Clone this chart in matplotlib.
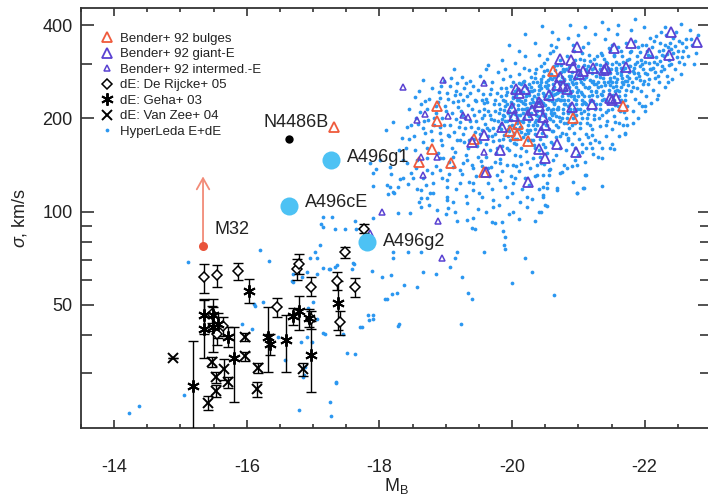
import numpy as np
import matplotlib
matplotlib.use('Agg')
import matplotlib.pyplot as plt
from matplotlib.ticker import FixedLocator, NullFormatter, FixedFormatter

plt.rcParams['font.family'] = ['Liberation Sans', 'DejaVu Sans']
plt.rcParams['axes.unicode_minus'] = False
plt.rcParams['mathtext.fontset'] = 'custom'
plt.rcParams['mathtext.rm'] = 'Liberation Sans'
plt.rcParams['mathtext.it'] = 'Liberation Sans:italic'

# ---- Bender+92 samples (M_B, sigma) ----
bulge_mag = [-17.32, -18.87, -18.87, -18.80, -18.59, -19.08, -20.62, -21.68, -20.92,
             -20.09, -19.97, -20.08, -20.24, -19.43, -19.58]
bulge_sig = [187.8, 219.5, 196.3, 159.5, 144.8, 143.7, 284.4, 219.5, 200.7,
             192.0, 182.3, 176.9, 169.2, 171.7, 134.5]

giant_mag = [-22.39, -22.79, -21.80, -21.53, -20.98, -22.07, -22.36, -20.73, -20.89, -20.92,
             -21.72, -21.41, -21.39, -21.22, -21.07, -21.01, -20.73, -20.68, -20.77, -20.83,
             -20.20, -20.06, -20.11, -20.55, -20.40, -20.00, -20.30, -20.41, -20.24, -20.03,
             -20.47, -20.49, -20.43, -20.91, -21.21, -21.47, -21.56, -21.51, -19.85, -19.82,
             -20.40, -20.50, -20.68, -20.97, -20.24, -19.60, -19.57, -19.40]
giant_sig = [379.8, 352.6, 350.0, 337.3, 339.8, 325.0, 320.2, 310.9, 308.6, 293.0,
             293.0, 290.8, 286.5, 290.8, 284.4, 278.1, 272.1, 256.4, 254.5, 248.9,
             248.9, 248.9, 241.6, 238.1, 226.1, 216.2, 213.1, 219.5, 205.3, 203.8,
             202.3, 190.6, 180.9, 217.9, 222.8, 232.9, 232.9, 229.5, 187.8, 158.3,
             159.5, 149.2, 165.5, 156.0, 124.9, 134.5, 176.9, 168.0]

inter_mag = [-19.58, -19.26, -19.34, -19.57, -18.36, -18.96, -18.57, -18.68, -19.04, -18.62,
             -18.87, -18.66, -18.04, -18.89, -18.95, -17.86]
inter_sig = [260.2, 205.3, 202.3, 156.0, 252.6, 266.1, 197.8, 206.8, 203.8, 150.3,
             150.3, 131.5, 100.0, 93.6, 70.6, 85.6]

# ---- dE samples ----
drk_mag = [-15.36, -15.55, -15.86, -16.46, -16.75, -16.79, -16.97, -17.36, -17.48, -17.63,
           -17.41, -16.97, -15.64, -15.48, -15.55, -17.76]
drk_sig = [61.3, 62.3, 64.1, 49.1, 65.1, 68.0, 57.3, 59.9, 73.8, 56.9,
           43.9, 44.9, 42.6, 46.6, 40.1, 88.2]
drk_err = [6.5, 5.0, 4.0, 3.5, 5.0, 5.0, 4.0, 4.0, 3.0, 4.0,
           4.0, 3.0, 3.0, 3.0, 3.0, 3.0]

geha_mag = [-16.04, -15.36, -15.49, -15.36, -15.49, -15.57, -15.72, -15.19, -15.81, -16.32,
            -16.35, -16.59, -16.70, -16.79, -16.94, -16.97, -17.38]
geha_sig = [55.6, 46.2, 46.2, 41.7, 42.3, 43.2, 39.5, 27.3, 33.6, 39.3,
            37.3, 38.4, 45.9, 47.6, 45.5, 34.4, 50.6]
geha_lo = [5.0, 6.0, 5.0, 8.0, 7.0, 4.0, 3.0, 8.0, 9.3, 9.0,
           3.0, 8.1, 3.0, 6.2, 3.0, 8.3, 9.0]
geha_hi = [5.0, 6.0, 6.0, 10.0, 7.0, 4.0, 3.0, 11.0, 8.7, 10.0,
           3.0, 7.8, 3.0, 5.7, 3.0, 10.0, 9.0]

vz_mag = [-14.89, -15.48, -15.54, -15.54, -15.42, -15.66, -15.72, -15.98, -15.98, -16.17,
          -16.16, -16.85]
vz_sig = [33.6, 32.6, 29.2, 26.3, 24.1, 31.0, 28.1, 39.3, 34.1, 31.2,
          26.7, 31.0]
vz_err = [0.0, 1.2, 1.2, 1.2, 1.2, 2.5, 1.2, 1.2, 1.2, 1.2,
          1.5, 1.5]

# ---- labelled objects ----
a496_names = ['A496g1', 'A496cE', 'A496g2']
a496_mag = [-17.27, -16.64, -17.82]
a496_sig = [147.0, 104.6, 80.0]
a496_text_mag = [-17.51, -16.88, -18.06]
a496_text_sig = [144.8, 103.7, 77.4]

n4486b_mag, n4486b_sig = -16.64, 171.7
m32_mag, m32_sig, m32_upper = -15.34, 77.2, 130.0

# ---- HyperLeda E+dE (M_B, sigma) ----
hyperleda = [
    # faint tail
    (-14.23, 22.4), (-14.38, 23.6), (-15.06, 25.6), (-15.12, 68.8), (-16.20, 75.0), (-16.34, 69.4),
    (-16.11, 50.2), (-16.25, 50.9), (-15.93, 43.5), (-16.08, 41.7), (-16.47, 39.5), (-16.58, 33.2),
    (-16.78, 22.9), (-16.81, 37.8), (-16.85, 29.2), (-16.91, 39.3), (-16.88, 31.5), (-17.15, 40.4),
    (-17.26, 24.3), (-17.27, 21.9), (-17.35, 27.9), (-16.70, 63.1), (-16.68, 59.9), (-16.91, 63.6),
    (-16.96, 71.1), (-17.03, 73.8), (-17.06, 70.6), (-17.12, 91.5), (-17.15, 89.4), (-17.11, 78.0),
    (-17.15, 65.9), (-17.24, 65.4), (-17.33, 66.4), (-17.06, 62.7), (-16.93, 48.7), (-17.00, 50.9),
    (-17.06, 44.9),
    (-17.15, 96.3), (-17.29, 96.3), (-17.33, 88.2), (-17.48, 88.2), (-17.63, 93.6), (-17.65, 87.6),
    (-17.91, 95.6), (-18.13, 114.2), (-18.22, 115.1), (-18.28, 99.2), (-18.21, 73.8), (-17.89, 64.1),
    (-18.04, 61.3), (-18.19, 54.0), (-18.27, 54.4), (-18.12, 52.1), (-17.71, 42.3), (-17.91, 44.9),
    (-17.83, 46.2), (-18.28, 42.6), (-17.51, 35.0), (-17.63, 34.8), (-17.35, 28.1), (-16.84, 61.7),
    (-16.70, 59.4), (-17.26, 65.4), (-17.36, 67.0), (-17.59, 65.1), (-17.62, 68.0), (-17.18, 40.1),
    (-16.99, 37.8), (-16.87, 29.6), (-16.13, 49.4),
    (-17.73, 42.3), (-17.85, 44.6), (-17.91, 46.5), (-18.30, 43.2), (-18.09, 52.1), (-18.37, 58.1),
    (-18.56, 56.9), (-18.18, 62.3), (-18.65, 63.6), (-18.86, 63.1), (-19.25, 61.7), (-19.34, 54.4),
    (-19.40, 52.4), (-19.23, 43.5), (-20.00, 59.0), (-20.30, 63.6), (-20.20, 70.6), (-20.64, 53.6),
    (-19.90, 75.6), (-19.88, 78.0), (-19.57, 74.3), (-19.14, 70.8), (-19.07, 66.4), (-19.17, 73.8),
    (-18.62, 73.8), (-18.43, 73.8), (-18.21, 71.0), (-17.60, 68.5), (-17.45, 40.1),
    # intermediate luminosities
    (-17.91, 133.5), (-17.95, 137.6), (-18.18, 132.5), (-18.31, 127.7), (-17.91, 121.2), (-18.16, 120.3),
    (-18.21, 115.9), (-18.48, 133.5), (-18.43, 123.0), (-18.56, 118.5), (-18.62, 110.8), (-18.59, 107.7),
    (-18.72, 110.8), (-18.75, 105.3), (-18.87, 101.4), (-19.04, 102.9), (-19.01, 98.5), (-19.14, 100.0),
    (-19.17, 93.6), (-19.32, 94.2), (-19.41, 95.6), (-19.40, 88.8), (-19.44, 87.6), (-19.70, 92.9),
    (-19.85, 92.9), (-19.87, 86.3), (-19.90, 82.6), (-20.02, 100.0), (-20.23, 103.7), (-20.41, 100.0),
    (-20.49, 105.3), (-20.47, 111.6), (-20.68, 117.6), (-20.98, 115.1), (-21.09, 119.4), (-21.10, 131.5),
    (-20.92, 124.9), (-20.83, 138.6), (-20.53, 123.9), (-20.23, 111.6), (-20.12, 107.7), (-19.93, 111.6),
    (-19.72, 109.2), (-19.55, 111.6), (-19.32, 106.9), (-19.11, 107.7), (-19.02, 111.6), (-18.81, 115.1),
    (-18.62, 117.6), (-18.81, 123.9), (-19.02, 120.3), (-19.22, 123.9), (-19.41, 117.6), (-19.63, 123.9),
    (-19.82, 126.7), (-20.02, 123.9), (-20.20, 128.6), (-20.38, 131.5), (-20.55, 136.5), (-20.73, 133.5),
    (-18.72, 136.5), (-18.92, 136.5), (-19.11, 139.6), (-19.26, 143.7), (-19.41, 138.6), (-19.63, 138.6),
    (-19.82, 143.7), (-20.02, 141.7), (-20.23, 144.8), (-20.43, 143.7), (-20.62, 147.0), (-18.42, 143.7),
    (-18.57, 147.0), (-18.72, 149.2), (-18.16, 139.6), (-18.01, 147.0), (-17.86, 143.7), (-18.92, 149.2),
    (-19.11, 150.3), (-18.66, 128.6), (-18.36, 128.6),
    (-18.85, 140), (-18.95, 128), (-19.05, 145), (-19.15, 118), (-19.25, 132), (-19.35, 125),
    (-19.45, 130), (-19.50, 115), (-19.55, 140), (-19.60, 100), (-19.65, 130), (-19.70, 118),
    (-19.75, 145), (-19.80, 105), (-19.85, 135), (-19.90, 120), (-19.95, 98), (-20.00, 115),
    (-20.05, 128), (-20.15, 118), (-20.25, 122), (-20.30, 110), (-20.35, 130), (-20.40, 118),
    (-19.30, 112), (-19.05, 132), (-18.70, 122), (-18.55, 138), (-19.48, 102), (-19.75, 92),
    (-20.10, 95), (-20.35, 93),
    # upper left of the main cloud
    (-18.65, 266.1), (-19.17, 260.2), (-18.54, 234.6), (-19.14, 238.1), (-18.92, 233.0), (-19.37, 241.6),
    (-19.44, 229.5), (-18.21, 194.9), (-18.10, 183.6), (-18.34, 173.1), (-18.42, 187.8), (-18.66, 186.4),
    (-18.74, 197.8), (-18.92, 187.8), (-19.04, 176.9), (-19.22, 194.8), (-19.26, 178.3), (-18.36, 147.0),
    (-18.54, 158.3), (-18.65, 168.0), (-18.95, 164.3), (-18.96, 149.2), (-19.14, 156.0), (-19.22, 170.5),
    (-19.32, 147.0), (-19.22, 136.5), (-19.41, 123.9), (-19.02, 126.7), (-18.80, 133.5), (-18.51, 128.6),
    (-18.28, 120.3), (-18.12, 122.1), (-18.77, 115.1), (-19.02, 109.2), (-19.72, 103.7), (-18.62, 103.7),
    (-18.46, 99.2),
    (-18.52, 175), (-18.58, 192), (-18.61, 210), (-18.69, 228), (-18.72, 161), (-18.78, 182),
    (-18.83, 201), (-18.86, 219), (-18.90, 243), (-18.93, 170), (-18.97, 190), (-19.00, 212),
    (-19.04, 231), (-19.07, 255), (-19.10, 160), (-19.13, 181), (-19.16, 199), (-19.19, 218),
    (-19.21, 240), (-19.24, 272), (-19.27, 168), (-19.29, 186), (-19.12, 290), (-18.98, 265),
    (-18.80, 250), (-18.45, 215), (-18.40, 160), (-18.30, 158), (-19.25, 205), (-19.05, 175),
    (-18.88, 155), (-18.68, 180), (-19.18, 228), (-19.28, 250),
    (-18.55, 200), (-18.63, 222), (-18.67, 196), (-18.71, 214), (-18.75, 232), (-18.79, 170),
    (-18.82, 190), (-18.85, 208), (-18.88, 226), (-18.91, 180), (-18.95, 200), (-18.99, 220),
    (-19.02, 242), (-19.06, 190), (-19.09, 208), (-19.11, 226), (-19.15, 246), (-19.17, 170),
    (-19.20, 188), (-19.23, 212), (-19.26, 230), (-19.29, 200), (-19.30, 260), (-19.08, 270),
    (-18.93, 255), (-18.60, 245), (-18.48, 190), (-18.44, 172),
    # bright core
    (-19.31, 152), (-19.35, 171), (-19.38, 188), (-19.42, 205), (-19.33, 221), (-19.47, 163),
    (-19.52, 178), (-19.45, 196), (-19.58, 214), (-19.61, 232), (-19.49, 248), (-19.66, 158),
    (-19.71, 169), (-19.55, 184), (-19.69, 199), (-19.74, 211), (-19.62, 226), (-19.77, 241),
    (-19.70, 262), (-19.79, 283), (-19.36, 265), (-19.51, 274), (-19.59, 192), (-19.44, 181),
    (-19.64, 175), (-19.72, 187), (-19.57, 205), (-19.80, 222), (-19.76, 155), (-19.40, 142),
    (-19.53, 146), (-19.68, 139), (-19.78, 131), (-19.46, 228), (-19.63, 298),
    (-19.34, 160), (-19.37, 197), (-19.39, 214), (-19.32, 236), (-19.41, 255), (-19.43, 172),
    (-19.48, 186), (-19.50, 212), (-19.54, 229), (-19.56, 240), (-19.48, 150), (-19.60, 165),
    (-19.65, 183), (-19.67, 205), (-19.73, 223), (-19.75, 178), (-19.79, 196), (-19.81, 208),
    (-19.69, 249), (-19.58, 262),
    (-19.82, 148), (-19.85, 163), (-19.88, 177), (-19.84, 192), (-19.86, 206), (-19.89, 219),
    (-19.83, 236), (-19.91, 251), (-19.87, 268), (-19.93, 141), (-19.95, 158), (-19.97, 171),
    (-19.94, 185), (-19.99, 198), (-19.96, 212), (-19.98, 226), (-19.92, 244), (-20.01, 262),
    (-20.04, 152), (-20.06, 166), (-20.03, 180), (-20.08, 193), (-20.05, 207), (-20.09, 221),
    (-20.02, 235), (-20.07, 249), (-20.11, 278), (-20.13, 143), (-20.14, 160), (-20.16, 174),
    (-20.12, 188), (-20.18, 201), (-20.15, 215), (-20.19, 229), (-20.17, 243), (-20.14, 258),
    (-20.21, 157), (-20.24, 170), (-20.22, 184), (-20.26, 196), (-20.23, 210), (-20.27, 224),
    (-20.25, 238), (-20.28, 253), (-20.29, 272), (-19.90, 290), (-20.05, 302), (-20.20, 318),
    (-20.10, 135), (-20.27, 138), (-19.98, 130), (-20.00, 242), (-19.86, 229), (-20.12, 205),
    (-20.22, 216), (-20.08, 172), (-19.95, 189),
    (-19.81, 170), (-19.83, 185), (-19.85, 199), (-19.88, 213), (-19.90, 228), (-19.92, 160),
    (-19.94, 175), (-19.97, 204), (-19.99, 218), (-20.01, 233), (-20.03, 167), (-20.05, 186),
    (-20.07, 200), (-20.09, 214), (-20.11, 229), (-20.04, 246), (-20.13, 181), (-20.15, 196),
    (-20.17, 209), (-20.19, 222), (-20.21, 236), (-20.23, 250), (-20.16, 262), (-20.24, 190),
    (-20.26, 204), (-20.28, 218), (-20.30, 232), (-20.27, 245), (-20.29, 170), (-20.20, 178),
    (-20.12, 151), (-20.06, 140), (-19.92, 196), (-20.10, 260), (-20.25, 286), (-19.97, 275),
    (-20.18, 292), (-20.02, 208), (-20.08, 230), (-20.14, 188),
    (-20.31, 149), (-20.33, 164), (-20.35, 178), (-20.32, 191), (-20.36, 205), (-20.34, 219),
    (-20.37, 233), (-20.33, 248), (-20.38, 263), (-20.35, 281), (-20.40, 158), (-20.42, 172),
    (-20.44, 186), (-20.41, 199), (-20.45, 213), (-20.43, 227), (-20.46, 242), (-20.42, 257),
    (-20.47, 274), (-20.44, 296), (-20.49, 162), (-20.51, 176), (-20.53, 190), (-20.50, 204),
    (-20.54, 217), (-20.52, 231), (-20.55, 246), (-20.51, 262), (-20.56, 279), (-20.53, 312),
    (-20.58, 168), (-20.60, 182), (-20.62, 196), (-20.59, 209), (-20.63, 223), (-20.61, 238),
    (-20.64, 252), (-20.60, 268), (-20.65, 286), (-20.62, 330), (-20.67, 174), (-20.69, 188),
    (-20.71, 202), (-20.68, 215), (-20.72, 229), (-20.70, 244), (-20.73, 259), (-20.69, 276),
    (-20.74, 298), (-20.76, 180), (-20.78, 194), (-20.77, 208), (-20.79, 222), (-20.75, 236),
    (-20.80, 251), (-20.78, 266), (-20.77, 288), (-20.48, 143), (-20.66, 152), (-20.37, 141),
    (-20.57, 137), (-20.72, 160), (-20.40, 320), (-20.58, 345), (-20.70, 362), (-20.45, 210),
    (-20.55, 200), (-20.65, 240), (-20.38, 226), (-20.50, 255), (-20.62, 182), (-20.34, 195),
    (-20.32, 170), (-20.34, 185), (-20.36, 198), (-20.38, 212), (-20.40, 225), (-20.39, 240),
    (-20.41, 255), (-20.43, 268), (-20.45, 180), (-20.47, 194), (-20.49, 207), (-20.50, 221),
    (-20.48, 236), (-20.52, 250), (-20.54, 266), (-20.53, 286), (-20.56, 185), (-20.57, 199),
    (-20.58, 213), (-20.60, 227), (-20.59, 242), (-20.61, 258), (-20.63, 272), (-20.64, 295),
    (-20.66, 190), (-20.67, 204), (-20.69, 218), (-20.70, 232), (-20.71, 248), (-20.72, 264),
    (-20.74, 282), (-20.75, 200), (-20.77, 215), (-20.78, 230), (-20.79, 245), (-20.80, 258),
    (-20.76, 272), (-20.73, 310), (-20.48, 303), (-20.36, 290), (-20.57, 325), (-20.66, 340),
    (-20.42, 150), (-20.52, 155), (-20.62, 165), (-20.72, 175), (-20.35, 160), (-20.46, 166),
    (-20.67, 230), (-20.55, 237),
    (-20.82, 158), (-20.84, 173), (-20.86, 187), (-20.83, 201), (-20.87, 215), (-20.85, 229),
    (-20.88, 244), (-20.84, 259), (-20.89, 275), (-20.86, 294), (-20.83, 318), (-20.91, 165),
    (-20.93, 180), (-20.95, 194), (-20.92, 208), (-20.96, 222), (-20.94, 237), (-20.97, 252),
    (-20.93, 268), (-20.98, 286), (-20.95, 308), (-20.92, 345), (-21.01, 172), (-21.03, 186),
    (-21.05, 201), (-21.02, 215), (-21.06, 229), (-21.04, 244), (-21.07, 259), (-21.03, 276),
    (-21.08, 297), (-21.05, 325), (-21.00, 372), (-21.11, 178), (-21.13, 193), (-21.15, 207),
    (-21.12, 222), (-21.16, 236), (-21.14, 251), (-21.17, 267), (-21.13, 284), (-21.18, 306),
    (-21.21, 185), (-21.23, 199), (-21.25, 214), (-21.22, 228), (-21.26, 243), (-21.24, 258),
    (-21.27, 274), (-21.23, 292), (-21.28, 318), (-20.90, 140), (-21.00, 152), (-21.20, 160),
    (-21.10, 145), (-20.88, 400), (-21.15, 352), (-20.99, 236), (-21.09, 211), (-20.90, 262),
    (-20.81, 178), (-20.83, 193), (-20.85, 208), (-20.87, 222), (-20.89, 236), (-20.86, 252),
    (-20.88, 268), (-20.91, 283), (-20.90, 190), (-20.92, 200), (-20.94, 214), (-20.96, 229),
    (-20.98, 243), (-20.97, 260), (-20.99, 277), (-21.00, 296), (-21.02, 194), (-21.04, 208),
    (-21.06, 222), (-21.08, 237), (-21.10, 252), (-21.09, 268), (-21.11, 290), (-21.13, 200),
    (-21.15, 215), (-21.17, 230), (-21.19, 245), (-21.20, 262), (-21.21, 280), (-21.24, 206),
    (-21.26, 222), (-21.28, 236), (-21.29, 252), (-21.27, 300), (-21.16, 320), (-21.02, 312),
    (-20.94, 330), (-21.07, 340), (-20.84, 170), (-21.05, 165), (-21.18, 190), (-21.25, 170),
    (-20.95, 160), (-21.12, 160),
    (-21.31, 168), (-21.33, 189), (-21.35, 205), (-21.32, 222), (-21.36, 238), (-21.34, 254),
    (-21.37, 271), (-21.33, 289), (-21.38, 312), (-21.41, 176), (-21.43, 196), (-21.45, 213),
    (-21.42, 230), (-21.46, 247), (-21.44, 263), (-21.47, 281), (-21.43, 302), (-21.48, 333),
    (-21.51, 185), (-21.53, 204), (-21.55, 221), (-21.52, 238), (-21.56, 255), (-21.54, 272),
    (-21.57, 292), (-21.53, 318), (-21.61, 193), (-21.63, 212), (-21.65, 229), (-21.62, 246),
    (-21.66, 263), (-21.64, 282), (-21.67, 305), (-21.72, 201), (-21.74, 220), (-21.71, 238),
    (-21.75, 256), (-21.73, 274), (-21.76, 296), (-21.78, 328), (-21.40, 360), (-21.58, 375),
    (-21.30, 150), (-21.50, 165), (-21.70, 178), (-21.45, 390),
    (-21.31, 200), (-21.33, 215), (-21.35, 230), (-21.37, 246), (-21.39, 262), (-21.36, 280),
    (-21.38, 296), (-21.42, 210), (-21.44, 225), (-21.46, 240), (-21.48, 256), (-21.47, 270),
    (-21.49, 290), (-21.51, 215), (-21.53, 230), (-21.55, 246), (-21.57, 262), (-21.58, 280),
    (-21.56, 305), (-21.60, 220), (-21.62, 236), (-21.64, 252), (-21.66, 270), (-21.68, 288),
    (-21.70, 230), (-21.72, 248), (-21.74, 264), (-21.76, 282), (-21.79, 246), (-21.77, 312),
    (-21.34, 325), (-21.50, 345), (-21.65, 330), (-21.41, 190), (-21.55, 195), (-21.69, 210),
    # diagonal band through the core
    (-19.52, 168), (-19.55, 201), (-19.57, 225), (-19.60, 150), (-19.62, 186), (-19.64, 212),
    (-19.67, 240), (-19.70, 175), (-19.73, 198), (-19.75, 230), (-19.78, 160), (-19.80, 188),
    (-19.82, 215), (-19.84, 250), (-19.87, 172), (-19.89, 196), (-19.91, 238), (-19.94, 208),
    (-19.96, 182), (-19.98, 255), (-20.00, 190), (-20.02, 222), (-20.04, 172), (-20.06, 238),
    (-20.08, 205), (-20.10, 185), (-20.12, 245), (-20.14, 228), (-20.16, 195), (-20.18, 265),
    (-20.20, 215), (-20.22, 240), (-20.24, 180), (-20.26, 258), (-20.28, 208), (-20.30, 245),
    (-20.32, 226), (-20.34, 270), (-20.36, 212), (-20.38, 190), (-20.40, 248), (-20.42, 230),
    (-20.44, 262), (-20.46, 205), (-20.48, 285), (-20.50, 238), (-20.52, 215), (-20.54, 256),
    (-20.56, 230), (-20.58, 278), (-20.60, 205), (-20.62, 248), (-20.64, 225), (-20.66, 265),
    (-20.68, 298), (-20.70, 214), (-20.72, 245), (-20.74, 230), (-20.76, 262), (-20.78, 285),
    (-20.80, 222), (-20.82, 248), (-20.84, 238), (-20.86, 275), (-20.88, 212), (-20.90, 300),
    (-20.92, 258), (-20.94, 232), (-20.96, 270), (-20.98, 215), (-21.00, 248), (-21.02, 285),
    (-21.04, 262), (-21.06, 240), (-21.08, 310), (-21.10, 225), (-21.12, 272), (-21.14, 296),
    (-21.16, 252), (-21.18, 228), (-21.20, 288), (-21.22, 265), (-21.24, 312), (-21.26, 245),
    (-21.28, 282), (-21.30, 262), (-21.32, 298), (-21.34, 240), (-21.36, 320), (-21.38, 278),
    (-21.40, 256), (-21.42, 305), (-21.44, 286), (-21.46, 338), (-21.48, 265), (-21.50, 300),
    (-21.52, 252), (-21.54, 320), (-21.56, 286), (-21.58, 268), (-21.60, 340), (-21.62, 300),
    (-21.64, 276), (-21.66, 318), (-21.68, 258), (-21.70, 292), (-21.72, 350), (-21.74, 310),
    (-21.76, 270), (-21.78, 295), (-21.80, 330), (-21.82, 285), (-21.85, 355), (-21.88, 305),
    (-21.90, 280), (-21.93, 328), (-21.96, 300), (-21.99, 265), (-22.02, 345), (-22.05, 320),
    (-22.08, 288), (-22.11, 340), (-22.14, 305), (-22.17, 370), (-22.20, 275), (-22.23, 350),
    (-22.26, 320), (-22.29, 288), (-22.32, 372), (-22.35, 340), (-22.39, 300), (-22.42, 325),
    (-22.47, 380), (-22.52, 355), (-22.57, 315), (-22.63, 340), (-22.70, 362),
    (-20.05, 211), (-20.11, 197), (-20.19, 255), (-20.27, 183), (-20.33, 236), (-20.39, 203),
    (-20.44, 250), (-20.51, 191), (-20.57, 270), (-20.61, 215), (-20.68, 241), (-20.73, 196),
    (-20.79, 268), (-20.85, 220), (-20.91, 246), (-20.97, 205), (-21.03, 268), (-21.09, 226),
    (-21.14, 282), (-21.21, 238), (-21.27, 258), (-21.33, 272), (-21.39, 232), (-21.45, 292),
    (-21.51, 262), (-21.59, 248), (-21.65, 292), (-21.71, 265), (-19.88, 203), (-19.93, 222),
    (-20.00, 176), (-20.16, 224), (-20.31, 262), (-20.47, 225), (-20.63, 208), (-20.81, 290),
    # sparse upper edge
    (-19.60, 290), (-19.85, 310), (-20.10, 330), (-20.35, 350), (-20.60, 380), (-20.85, 365),
    (-21.10, 395), (-21.35, 410), (-21.60, 400), (-21.85, 420), (-20.20, 375), (-20.45, 398),
    (-19.95, 345), (-21.25, 375), (-21.80, 385),
    # bright end
    (-21.82, 212), (-21.85, 232), (-21.83, 252), (-21.87, 271), (-21.84, 292), (-21.88, 318),
    (-21.92, 224), (-21.95, 245), (-21.93, 266), (-21.97, 288), (-21.94, 310), (-21.96, 345),
    (-22.02, 236), (-22.05, 258), (-22.03, 279), (-22.07, 302), (-22.04, 330), (-22.12, 248),
    (-22.15, 270), (-22.13, 292), (-22.17, 316), (-22.14, 355), (-22.22, 262), (-22.25, 284),
    (-22.23, 307), (-22.27, 334), (-22.24, 380), (-22.33, 275), (-22.36, 298), (-22.34, 322),
    (-22.38, 352), (-22.45, 290), (-22.48, 315), (-22.46, 342), (-22.55, 405), (-22.52, 305),
    (-22.58, 330), (-22.62, 360), (-22.66, 318), (-22.72, 345), (-22.78, 325), (-22.80, 372),
    (-21.90, 200), (-22.00, 212), (-22.10, 225), (-22.20, 238), (-22.30, 252), (-21.99, 395),
    (-22.41, 268),
    (-21.81, 262), (-21.84, 280), (-21.86, 300), (-21.89, 250), (-21.91, 275), (-21.93, 296),
    (-21.98, 258), (-22.00, 280), (-22.01, 305), (-22.06, 268), (-22.09, 290), (-22.10, 318),
    (-22.16, 282), (-22.19, 300), (-22.21, 330), (-22.26, 295), (-22.29, 318), (-22.31, 345),
    (-22.37, 310), (-22.40, 335), (-22.43, 365), (-22.50, 330), (-22.56, 352), (-22.60, 300),
    (-22.68, 385), (-22.75, 300), (-22.08, 365), (-22.30, 395), (-21.90, 340), (-22.18, 232),
    (-22.35, 262), (-22.55, 278),
    (-21.96, 219), (-22.00, 219), (-21.83, 193), (-21.74, 190), (-21.67, 190), (-21.71, 180),
    (-21.62, 176), (-21.53, 159.5), (-21.47, 160), (-21.36, 160), (-21.36, 149), (-21.35, 121),
    (-21.11, 131), (-21.07, 119), (-20.98, 115), (-20.76, 134), (-20.79, 141), (-20.68, 119),
    (-20.55, 131), (-20.47, 131), (-20.53, 119), (-20.46, 120), (-20.47, 113), (-20.52, 104),
    (-20.43, 100), (-21.18, 167), (-21.22, 153), (-21.21, 177), (-21.14, 174), (-20.98, 142),
    (-20.95, 147), (-21.06, 156),
]
hl_mag, hl_sig = np.array(hyperleda).T

red = '#ef5a3c'
violet = '#5a42d2'
sky = '#4dc2f4'
dot_blue = '#2b97f0'

fig = plt.figure(figsize=(7.08, 5.01), dpi=100)
ax = fig.add_axes([81 / 708, 73 / 501, 630 / 708, 420 / 501])

h_hl, = ax.plot(hl_mag, hl_sig, 'o', ms=2.7, mew=0, color=dot_blue, zorder=2)

h_bulge, = ax.plot(bulge_mag, bulge_sig, '^', ms=7.5, mfc='none', mec=red, mew=1.3, zorder=3)
h_giant, = ax.plot(giant_mag, giant_sig, '^', ms=7.5, mfc='none', mec=violet, mew=1.3, zorder=3)
h_inter, = ax.plot(inter_mag, inter_sig, '^', ms=5, mfc='none', mec=violet, mew=1.1, zorder=3)

# dwarfs with error bars
ax.errorbar(drk_mag, drk_sig, yerr=drk_err, fmt='none', ecolor='k', elinewidth=1,
            capsize=3.5, capthick=1, zorder=4)
ax.errorbar(geha_mag, geha_sig, yerr=[geha_lo, geha_hi], fmt='none', ecolor='k',
            elinewidth=1, capsize=3.5, capthick=1, zorder=4)
ax.errorbar(vz_mag, vz_sig, yerr=vz_err, fmt='none', ecolor='k', elinewidth=1,
            capsize=3.5, capthick=1, zorder=4)
h_drk, = ax.plot(drk_mag, drk_sig, 'D', ms=5, mfc='white', mec='k', mew=1.1, zorder=5)
h_geha, = ax.plot(geha_mag, geha_sig, marker=(6, 2, 0), ls='none', ms=9, mec='k',
                  mew=1.4, color='k', zorder=5)
h_vz, = ax.plot(vz_mag, vz_sig, 'x', ms=7, mec='k', mew=1.4, zorder=5)

# labelled objects
ax.plot(a496_mag, a496_sig, 'o', ms=13, mew=0, color=sky, zorder=6)
for name, xm, ys in zip(a496_names, a496_text_mag, a496_text_sig):
    ax.text(xm, ys, name, fontsize=13, ha='left', va='baseline', color='#222222', zorder=7)

ax.plot([n4486b_mag], [n4486b_sig], 'o', ms=6, mew=0, color='k', zorder=6)
ax.text(-17.23, 187.8, 'N4486B', fontsize=13, ha='right', va='baseline', color='#222222')

ax.annotate('', xy=(m32_mag, m32_upper), xytext=(m32_mag, m32_sig),
            arrowprops=dict(arrowstyle='->,head_length=0.8,head_width=0.45',
                            color='#f28b78', lw=1.3, shrinkA=0, shrinkB=0), zorder=5)
ax.plot([m32_mag], [m32_sig], 'o', ms=6.5, mew=0, color='#e9533a', zorder=6)
ax.text(-15.52, 84.4, 'M32', fontsize=13, ha='left', va='baseline', color='#222222')

# axes
ax.set_yscale('log')
ax.set_xlim(-13.5, -23.0)
ax.set_ylim(20, 455)
ax.yaxis.set_major_locator(FixedLocator([50, 100, 200, 400]))
ax.yaxis.set_major_formatter(FixedFormatter(['50', '100', '200', '400']))
ax.yaxis.set_minor_locator(FixedLocator([30, 40, 60, 70, 80, 90, 300]))
ax.yaxis.set_minor_formatter(NullFormatter())
ax.xaxis.set_major_locator(FixedLocator([-14, -16, -18, -20, -22]))
ax.xaxis.set_minor_locator(FixedLocator(np.arange(-13.5, -23.01, -0.5)))

spine_c = '#333333'
for sp in ax.spines.values():
    sp.set_color(spine_c)
    sp.set_linewidth(1.3)
ax.tick_params(axis='both', which='both', direction='in', top=True, right=True,
               color=spine_c, width=1.2, labelsize=13, labelcolor='#222222')
ax.tick_params(axis='x', which='major', length=6, pad=22)
ax.tick_params(axis='x', which='minor', length=3)
ax.tick_params(axis='y', which='major', length=9.5, pad=6)
ax.tick_params(axis='y', which='minor', length=8)

ax.set_xlabel(r'M$_{\rm B}$', fontsize=13, color='#222222')
ax.xaxis.set_label_coords(0.5, -0.115)
ax.set_ylabel(r'$\it{\sigma}$, km/s', fontsize=13, color='#222222')
ax.yaxis.set_label_coords(-0.082, 0.5)

handles = [h_bulge, h_giant, h_inter, h_drk, h_geha, h_vz, h_hl]
labels = ['Bender+ 92 bulges', 'Bender+ 92 giant-E', 'Bender+ 92 intermed.-E',
          'dE: De Rijcke+ 05', 'dE: Geha+ 03', 'dE: Van Zee+ 04', 'HyperLeda E+dE']
leg = ax.legend(handles, labels, loc='upper left', bbox_to_anchor=(0.033, 0.942),
                borderaxespad=0, borderpad=0, frameon=False, fontsize=9.5,
                handlelength=0.8, handletextpad=0.55, labelspacing=0.25, numpoints=1)
for t in leg.get_texts():
    t.set_color('#222222')

fig.savefig('out.png', dpi=100)
